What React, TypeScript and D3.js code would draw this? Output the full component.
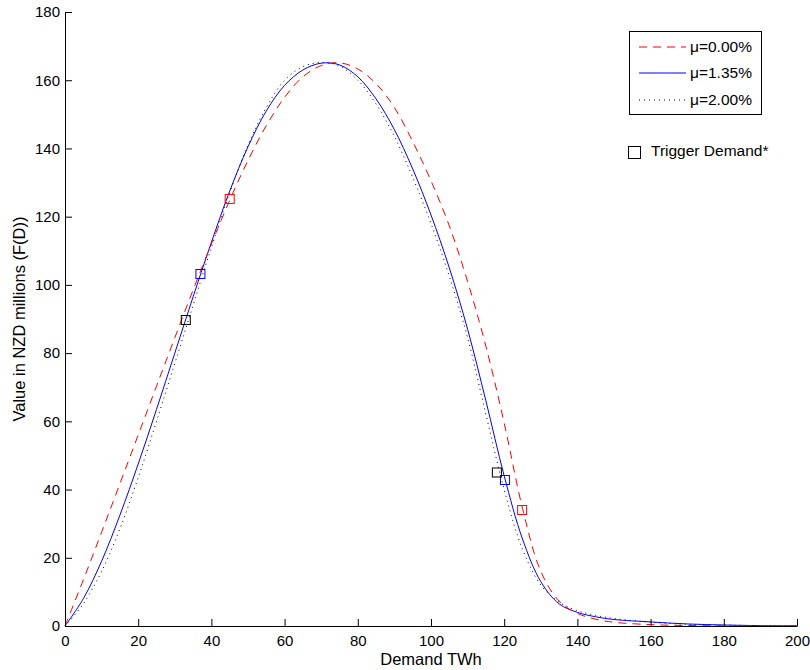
import React from 'react';
import * as d3 from 'd3';

// demand grid (TWh)
const demand = [0, 5, 10, 15, 20, 25, 30, 35, 40, 45, 50, 55, 60, 65, 70, 75, 80, 85, 90, 95, 100,
  105, 110, 115, 120, 125, 130, 135, 140, 145, 150, 160, 170, 180, 190, 200];

// F(D) in NZD millions
const valueMu000 = [0, 13.5, 27.5, 41.7, 56, 70.3, 84.5, 98.5, 112, 124.8, 136.5, 146.7, 155, 161, 164.3, 165.1, 163.3, 159, 152, 142, 130.5,
  117.3, 101, 82, 59.5, 34.5, 16, 7.3, 3.7, 2, 1.1, 0.4, 0.15, 0.05, 0, 0];
const valueMu135 = [0, 8, 19, 32.5, 47.5, 63.5, 80, 96.5, 112.5, 127.5, 140.5, 151, 158.5, 163, 165, 164.5, 161, 154.5, 145.5, 134, 120.5,
  105, 87, 66, 44, 25.5, 13, 6.5, 4, 2.7, 1.9, 1.2, 0.6, 0.3, 0.1, 0.05];
const valueMu200 = [0, 6.5, 16, 28.5, 43.5, 60, 77, 94, 111, 127, 141, 152, 160, 164, 165.2, 164.2, 160, 153, 143.5, 131.5, 118,
  102.5, 84.5, 62, 40, 22.5, 12, 7, 4.5, 3.1, 2.2, 1.1, 0.5, 0.25, 0.1, 0.05];

// trigger demand markers [demand, value]
const triggerMu000 = [[45, 125.2], [124.9, 34]];
const triggerMu135 = [[37, 103.2], [120.2, 42.8]];
const triggerMu200 = [[33, 89.7], [118, 45]];

const legendLabels = ['μ=0.00%', 'μ=1.35%', 'μ=2.00%'];
const xTicks = [0, 20, 40, 60, 80, 100, 120, 140, 160, 180, 200];
const yTicks = [0, 20, 40, 60, 80, 100, 120, 140, 160, 180];

const FONT = '"Liberation Sans", Arial, Helvetica, sans-serif';

const App = () => {
  const svgRef = React.useRef<SVGSVGElement>(null);

  React.useEffect(() => {
    const svg = d3.select(svgRef.current);
    svg.selectAll('*').remove();

    const width = 810;
    const height = 670;
    const margin = { top: 12, right: 13, bottom: 44, left: 65 };

    const x = d3.scaleLinear().domain([0, 200]).range([margin.left, width - margin.right]);
    const y = d3.scaleLinear().domain([0, 180]).range([height - margin.bottom, margin.top]);

    svg.append('rect').attr('width', width).attr('height', height).attr('fill', '#fff');

    const series = [
      { values: valueMu000, color: '#ff0000', dash: '8,6', triggers: triggerMu000 },
      { values: valueMu135, color: '#0000ff', dash: null, triggers: triggerMu135 },
      { values: valueMu200, color: '#000000', dash: '1,4', triggers: triggerMu200 },
    ];

    const line = d3.line<number>()
      .x((_, i) => x(demand[i]))
      .y(d => y(d))
      .curve(d3.curveCatmullRom.alpha(0.5));

    // curves: dotted below, then blue, red dashes on top
    series.slice().reverse().forEach(s => {
      svg.append('path')
        .attr('d', line(s.values))
        .attr('fill', 'none')
        .attr('stroke', s.color)
        .attr('stroke-width', 1)
        .attr('stroke-dasharray', s.dash);
    });

    // trigger markers
    series.forEach(s => {
      svg.selectAll(null)
        .data(s.triggers)
        .enter()
        .append('rect')
        .attr('x', d => x(d[0]) - 4.5)
        .attr('y', d => y(d[1]) - 4.5)
        .attr('width', 9)
        .attr('height', 9)
        .attr('fill', 'none')
        .attr('stroke', s.color)
        .attr('stroke-width', 1);
    });

    // axes
    const xAxis = svg.append('g')
      .attr('transform', `translate(0, ${y(0)})`)
      .call(d3.axisBottom(x).tickValues(xTicks).tickSizeInner(-7).tickSizeOuter(0).tickPadding(9));
    const yAxis = svg.append('g')
      .attr('transform', `translate(${x(0)}, 0)`)
      .call(d3.axisLeft(y).tickValues(yTicks).tickSizeInner(-7).tickSizeOuter(0).tickPadding(5));
    [xAxis, yAxis].forEach(g => {
      g.style('font-family', FONT).style('font-size', '15px');
      g.selectAll('text').attr('fill', '#000');
      g.selectAll('line').attr('stroke', '#000');
      g.select('.domain').attr('stroke', '#000');
    });

    // axis titles
    svg.append('text')
      .attr('x', (x(0) + x(200)) / 2)
      .attr('y', 665)
      .attr('text-anchor', 'middle')
      .style('font-family', FONT)
      .style('font-size', '16.5px')
      .text('Demand TWh');
    svg.append('text')
      .attr('transform', `translate(25, ${(y(0) + y(180)) / 2}) rotate(-90)`)
      .attr('text-anchor', 'middle')
      .style('font-family', FONT)
      .style('font-size', '16.5px')
      .text('Value in NZD millions (F(D))');

    // legend
    const legend = svg.append('g');
    legend.append('rect')
      .attr('x', 629.5).attr('y', 31.5)
      .attr('width', 132).attr('height', 83)
      .attr('fill', '#fff').attr('stroke', '#000').attr('stroke-width', 1);
    const rows = [47, 73, 100];
    series.forEach((s, k) => {
      legend.append('line')
        .attr('x1', 639).attr('x2', 686)
        .attr('y1', rows[k]).attr('y2', rows[k])
        .attr('stroke', s.color).attr('stroke-width', 1)
        .attr('stroke-dasharray', s.dash);
      legend.append('text')
        .attr('x', 690).attr('y', rows[k]).attr('dy', '0.35em')
        .style('font-family', FONT).style('font-size', '15.5px')
        .text(legendLabels[k]);
    });

    svg.append('rect')
      .attr('x', 628.5).attr('y', 146.5).attr('width', 12).attr('height', 12)
      .attr('fill', 'none').attr('stroke', '#000').attr('stroke-width', 1);
    svg.append('text')
      .attr('x', 651).attr('y', 151).attr('dy', '0.35em')
      .style('font-family', FONT).style('font-size', '15.5px')
      .text('Trigger Demand*');
  }, []);

  return (
    <svg ref={svgRef} width={810} height={670} style={{ position: 'absolute', left: 0, top: 0 }} />
  );
};

export default App;
